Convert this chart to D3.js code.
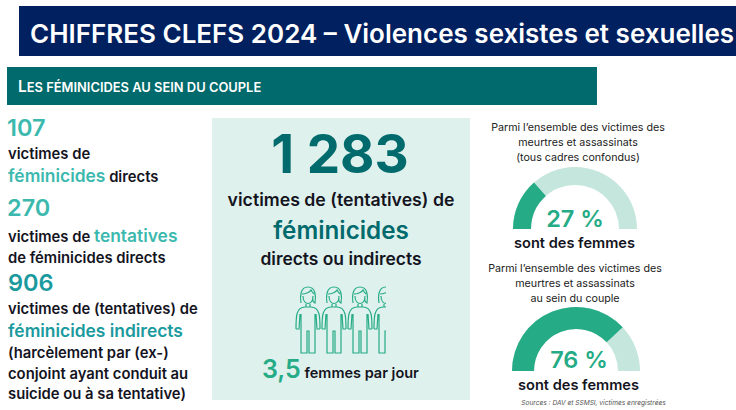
<!DOCTYPE html>
<html><head><meta charset="utf-8">
<script src="https://cdn.jsdelivr.net/npm/d3@7"></script>
<style>html,body{margin:0;background:#fff}svg{display:block}text{font-family:Inter,"Noto Sans",sans-serif}</style>
</head><body><svg id="c" width="736" height="410"></svg>
<script>
const title = "CHIFFRES CLEFS 2024 – Violences sexistes et sexuelles";
const total = "1 283";
const gaugeLabels = ["27 %", "76 %"];
const gaugeValues = [27, 76];
const gaugeCaptions = [["Parmi l’ensemble des victimes des","meurtres et assassinats","(tous cadres confondus)"],["Parmi l’ensemble des victimes des","meurtres et assassinats","au sein du couple"]];
const people = [0,1,2,3];

const navy="#002060",teal="#006a6c",pale="#dff1ed",aqua="#3cb9ae",deep="#1a9a9e",green="#25ab85",soft="#c5e6dc",ink="#14141e";
const svg=d3.select("#c");
const rect=(x,y,w,h,f)=>svg.append("rect").attr("x",x).attr("y",y).attr("width",w).attr("height",h).attr("fill",f);
function txt(x,y,size,weight,fill,parts,anchor){
  const t=svg.append("text").attr("x",x).attr("y",y).attr("font-size",size).attr("font-weight",weight).attr("fill",fill).attr("text-anchor",anchor||"start");
  (Array.isArray(parts)?parts:[[parts]]).forEach(p=>{const s=t.append("tspan").text(p[0]); if(p[1])s.attr("fill",p[1]); if(p[2])s.attr("font-size",p[2]);});
  return t;
}
rect(19,6,717,50,navy);
txt(30,43,26,600,"#fff",title);
rect(7,67,590,38,teal);
txt(18,92,15.5,600,"#fff",[["L"],["ES FÉMINICIDES AU SEIN DU COUPLE",null,12.9]]);
rect(212,118,258,282,pale);

txt(7,136,23.5,600,aqua,"107");
txt(8,159,14.8,600,ink,"victimes de");
txt(8,182,17.4,600,ink,[["féminicides",aqua,17.4],[" directs",null,14.8]]);
txt(7,216,23.5,600,aqua,"270");
txt(8,242,14.8,600,ink,[["victimes de "],["tentatives",aqua,17.4]]);
txt(8,263,14.8,600,ink,"de féminicides directs");
txt(8,291,23.5,600,deep,"906");
txt(8,314,14.8,600,ink,"victimes de (tentatives) de");
txt(8,337,17.4,600,deep,"féminicides indirects");
txt(8,358,14.8,600,ink,"(harcèlement par (ex-)");
txt(8,379,14.8,600,ink,"conjoint ayant conduit au");
txt(8,399,14.8,600,ink,"suicide ou à sa tentative)");

txt(340,173,53,700,teal,total,"middle");
txt(341,206,17.7,600,ink,"victimes de (tentatives) de","middle");
txt(341,239,24.2,600,teal,"féminicides","middle");
txt(341,265,17.4,600,ink,"directs ou indirects","middle");
txt(262,378,25,600,green,[["3,5"],[" femmes par jour",ink,14.5]]);

// people
const px=d3.scaleBand().domain(people).range([295,399]).padding(0);
svg.append("clipPath").attr("id","pc").append("rect").attr("x",290).attr("y",280).attr("width",96).attr("height",80);
const pg=svg.append("g").attr("clip-path","url(#pc)").selectAll("g").data(people).join("g").attr("transform",d=>`translate(${px(d)},284)`);
pg.append("path").attr("fill","none").attr("stroke",green).attr("stroke-width",1.2)
 .attr("d","M6 19 C5 13 5 3 13 3 C21 3 21 13 20 19 Q17 17.5 18 14 M7 10 C11 10 15 8 16 6 C17 8 18 9 19 10 M8 12 C8 22 18 22 18 12 M11 20 L11 23 M15 20 L15 23 M1 45 C1 33 1 23 10 23 L16 23 C25 23 25 33 25 45 M1 45 L4 45 L5 30 M21 30 L22 45 L25 45 M6 30 L6 69 L12 69 L12 47 L14 47 L14 69 L20 69 L20 30");

// gauges
const gaugeScale=d3.scaleLinear().domain([0,100]).range([-Math.PI/2,Math.PI/2]);
const geo=[{cx:575,cy:229,R:62,r:44,lx:575,ly:227,ty:131,sy:248},{cx:576,cy:371,R:64,r:42,lx:579,ly:368,ty:272,sy:390}];
gaugeValues.forEach((v,i)=>{
  const g=geo[i], arc=d3.arc().innerRadius(g.r).outerRadius(g.R);
  const n=svg.append("g").attr("transform",`translate(${g.cx},${g.cy})`);
  n.append("path").attr("fill",soft).attr("d",arc({startAngle:gaugeScale(0),endAngle:gaugeScale(100)}));
  n.append("path").attr("fill",green).attr("d",arc({startAngle:gaugeScale(0),endAngle:gaugeScale(v)}));
  txt(g.lx,g.ly,23.5,600,green,gaugeLabels[i],"middle");
  gaugeCaptions[i].forEach((c,j)=>txt(i?575:578,g.ty+j*15,10.7,400,"#222",c,"middle"));
  txt(i?578.5:574.5,g.sy,14.6,600,ink,"sont des femmes","middle");
});
txt(593.5,405,6.6,400,"#555","Sources : DAV et SSMSI, victimes enregistrées","middle").attr("font-style","italic");
</script></body></html>
